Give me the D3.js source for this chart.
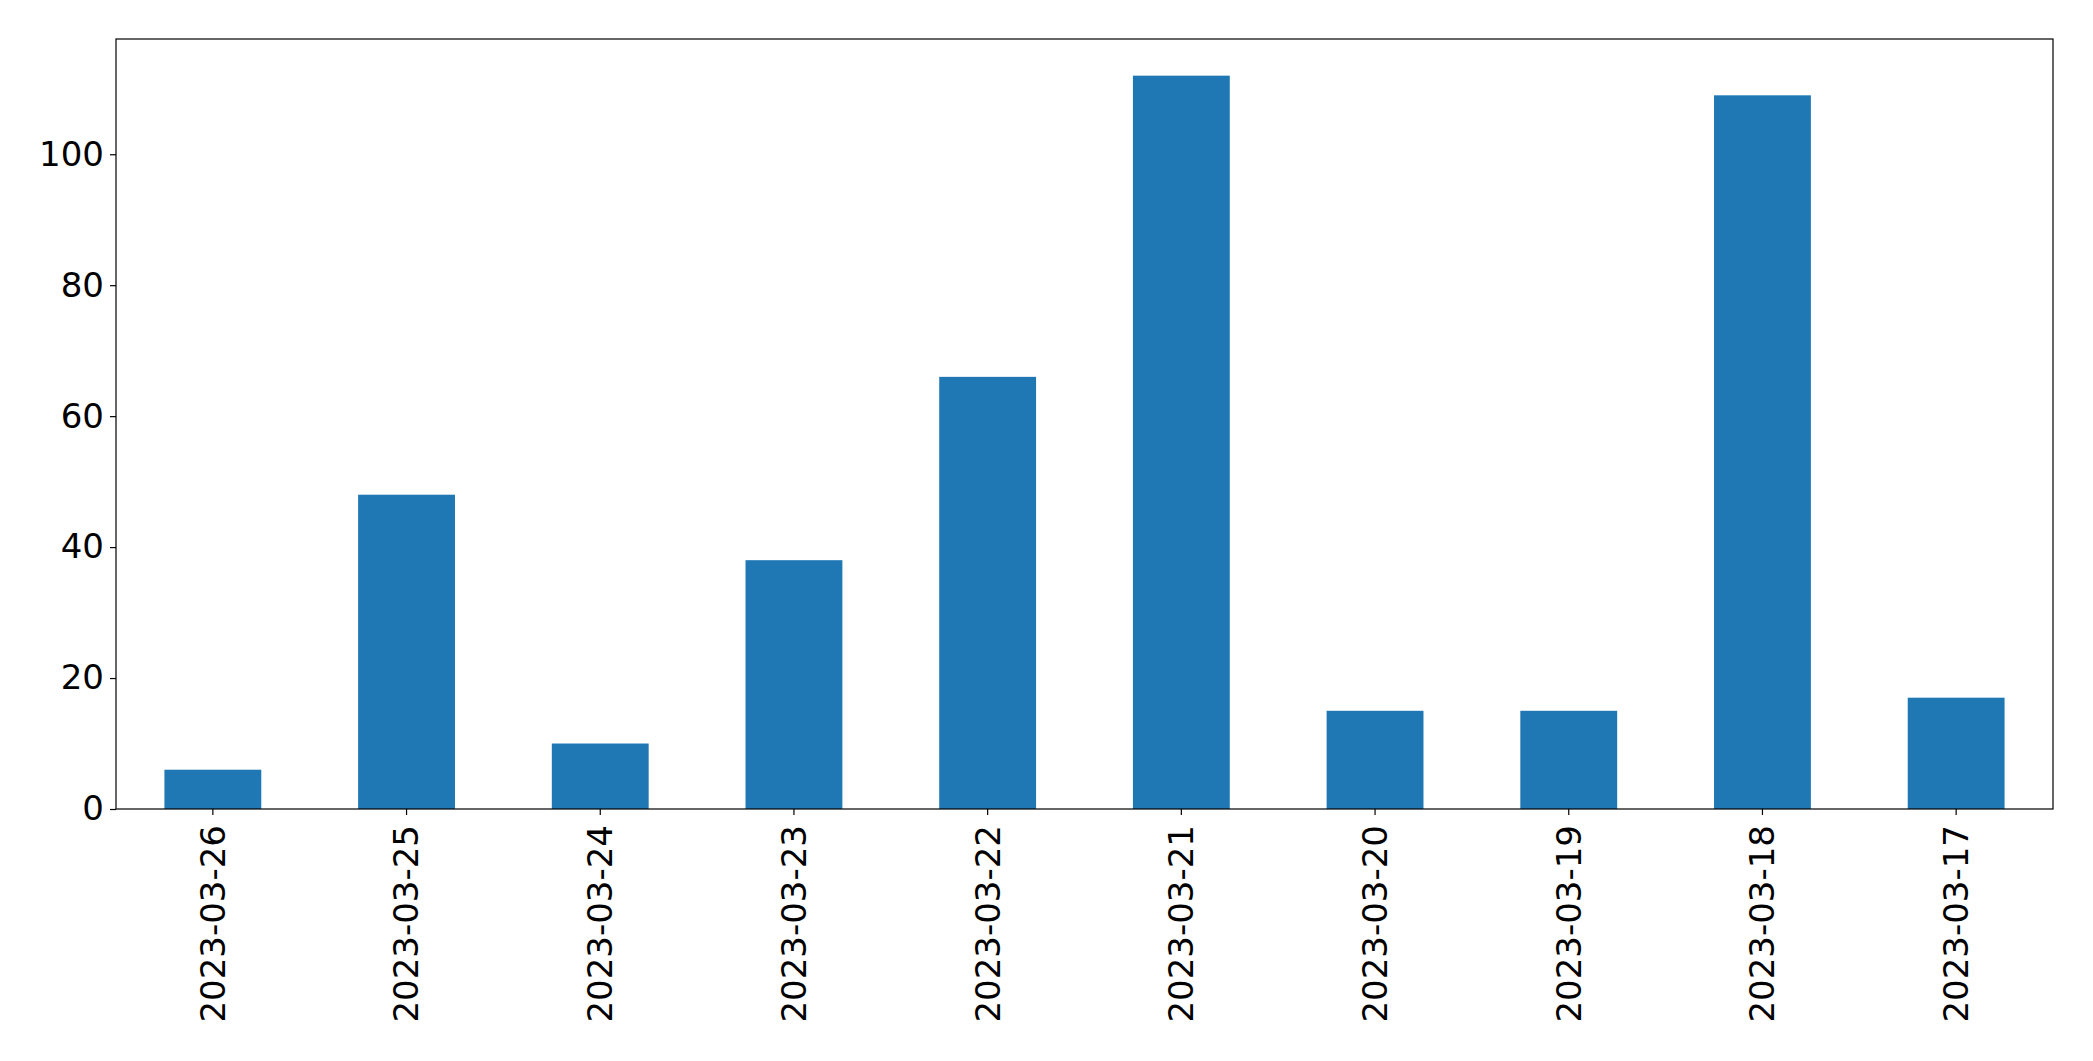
<!DOCTYPE html>
<html>
<head>
<meta charset="utf-8">
<script src="https://cdn.jsdelivr.net/npm/d3@7"></script>
<style>
  body { margin: 0; background: #fff; }
  text { font-family: "DejaVu Sans", sans-serif; }
</style>
</head>
<body>
<div id="chart"></div>
<script>
const dates = ["2023-03-26", "2023-03-25", "2023-03-24", "2023-03-23", "2023-03-22",
               "2023-03-21", "2023-03-20", "2023-03-19", "2023-03-18", "2023-03-17"];
const counts = [6, 48, 10, 38, 66, 112, 15, 15, 109, 17];
const yTicks = [0, 20, 40, 60, 80, 100];

const w = 2093;
const h = 1061;
const margin = { top: 39, right: 40, bottom: 252, left: 116 };
const fontSize = 34;
const tickLen = 6;
const tickPad = 6;

const svg = d3.select("#chart").append("svg").attr("width", w).attr("height", h);

const xScale = d3
  .scaleBand()
  .domain(dates)
  .range([margin.left, w - margin.right])
  .paddingInner(0.5)
  .paddingOuter(0.25);

const yScale = d3
  .scaleLinear()
  .domain([0, d3.max(counts) * 1.05])
  .range([h - margin.bottom, margin.top]);

const data = dates.map((d, i) => ({ date: d, count: counts[i] }));

svg
  .selectAll("rect.bar")
  .data(data)
  .enter()
  .append("rect")
  .attr("class", "bar")
  .attr("x", (d) => xScale(d.date))
  .attr("y", (d) => yScale(d.count))
  .attr("width", xScale.bandwidth())
  .attr("height", (d) => yScale(0) - yScale(d.count))
  .style("fill", "#1f77b4");

// y axis
const yAxis = svg
  .append("g")
  .attr("transform", `translate(${margin.left},0)`)
  .call(d3.axisLeft(yScale).tickValues(yTicks).tickSize(tickLen).tickPadding(tickPad).tickSizeOuter(0));
yAxis.select(".domain").remove();
yAxis.selectAll("line").attr("stroke", "#000").attr("stroke-width", 1.2);
yAxis.selectAll("text").style("font-size", fontSize + "px").attr("fill", "#000")
  .attr("font-family", "DejaVu Sans");

// x axis
const xAxis = svg
  .append("g")
  .attr("transform", `translate(0,${h - margin.bottom})`)
  .call(d3.axisBottom(xScale).tickSize(tickLen).tickSizeOuter(0));
xAxis.select(".domain").remove();
xAxis.selectAll("line").attr("stroke", "#000").attr("stroke-width", 1.2);
xAxis
  .selectAll("text")
  .style("font-size", fontSize + "px")
  .attr("fill", "#000")
  .attr("font-family", "DejaVu Sans")
  .attr("text-anchor", "end")
  .attr("y", 0)
  .attr("x", 0)
  .attr("dy", "0.35em")
  .attr("transform", `translate(0,${tickLen + tickPad + 4}) rotate(-90)`);

// frame
svg
  .append("rect")
  .attr("x", margin.left)
  .attr("y", margin.top)
  .attr("width", w - margin.left - margin.right)
  .attr("height", h - margin.top - margin.bottom)
  .attr("fill", "none")
  .attr("stroke", "#000")
  .attr("stroke-width", 1.2);
</script>
</body>
</html>
